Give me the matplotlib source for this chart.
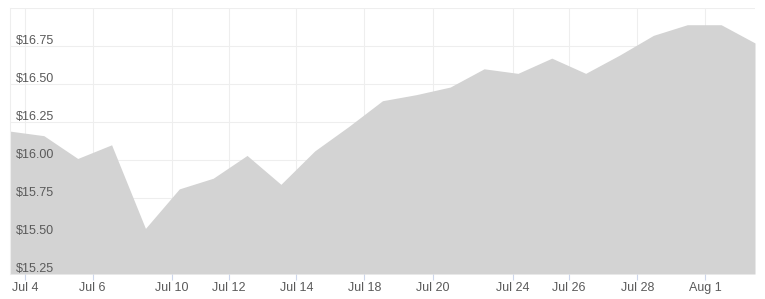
import matplotlib
matplotlib.use('Agg')
import matplotlib.pyplot as plt
from matplotlib import transforms

plt.rcParams['font.family'] = ['Liberation Sans', 'DejaVu Sans']

# closing prices, one per trading session
prices = [16.19, 16.16, 16.01, 16.10, 15.55, 15.81, 15.88, 16.03, 15.84, 16.06,
          16.22, 16.39, 16.43, 16.48, 16.60, 16.57, 16.67, 16.57, 16.69, 16.82,
          16.89, 16.89, 16.77]

# date ticks, given as position along the session index
tick_pos = [0.44, 2.44, 4.79, 6.47, 8.46, 10.46, 12.49, 14.86, 16.51, 18.53, 20.53]
tick_labels = ['Jul 4', 'Jul 6', 'Jul 10', 'Jul 12', 'Jul 14', 'Jul 18',
               'Jul 20', 'Jul 24', 'Jul 26', 'Jul 28', 'Aug 1']

y_ticks = [15.25, 15.50, 15.75, 16.00, 16.25, 16.50, 16.75, 17.00]

W, H = 765, 299
fig = plt.figure(figsize=(W / 100, H / 100), dpi=100)
ax = fig.add_axes([10 / W, 25 / H, 745 / W, 266 / H])

x = list(range(len(prices)))
ax.fill_between(x, prices, 15.25, color='#d3d3d3', linewidth=0, zorder=2)

ax.set_xlim(0, len(prices) - 1)
ax.set_ylim(15.25, 17.0)

ax.set_xticks(tick_pos)
ax.set_xticklabels(tick_labels, fontsize=9, color='#5a5a5a')
ax.tick_params(axis='x', length=4, width=0.8, color='#ccd6eb', pad=2)

ax.set_yticks(y_ticks)
ax.set_yticklabels([])
ax.tick_params(axis='y', length=0)

ax.grid(True, color='#eeeeee', linewidth=0.8, zorder=0)
ax.set_axisbelow(True)

for side in ['top', 'right', 'bottom']:
    ax.spines[side].set_visible(False)
ax.spines['left'].set_color('#eeeeee')
ax.spines['left'].set_linewidth(0.8)

# price labels sit inside the plot, just above each grid line
trans = transforms.blended_transform_factory(ax.transAxes, ax.transData)
trans = trans + transforms.ScaledTranslation(6 / 100, -1 / 100, fig.dpi_scale_trans)
for v in y_ticks[:-1]:
    ax.text(0, v, '${:.2f}'.format(v), transform=trans, ha='left', va='bottom',
            fontsize=9, color='#5a5a5a', zorder=3)

fig.savefig('out.png', dpi=100)
